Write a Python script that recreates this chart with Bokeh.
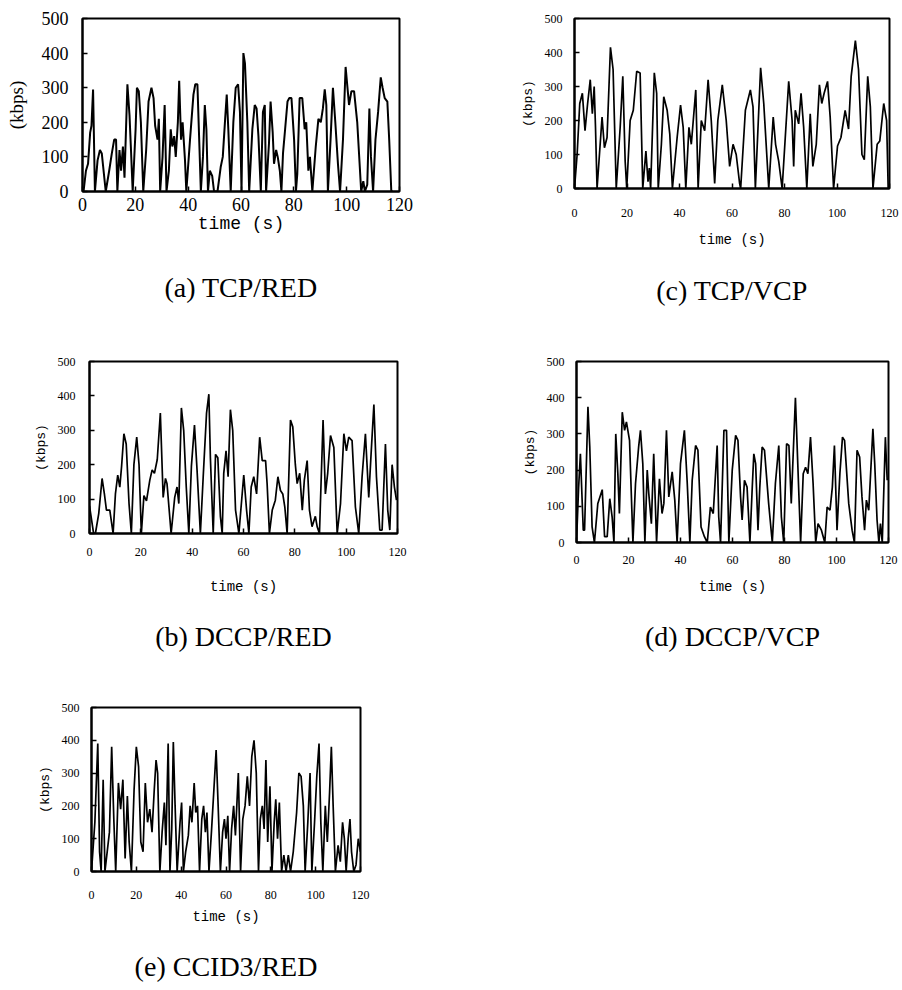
from bokeh.plotting import figure
from bokeh.layouts import column, row
from bokeh.models import Spacer, Range1d, FixedTicker
from bokeh.embed import file_html
from bokeh.resources import INLINE

x_ticks = [0, 20, 40, 60, 80, 100, 120]
y_ticks = [0, 100, 200, 300, 400, 500]

# (time s, kbps)
tcp_red = [(0, 0), (0.4, 0), (1.3, 60), (2.1, 80), (2.9, 170), (3.4, 190), (4.0, 295), (4.7, 0), (5.7, 90), (6.6, 120),
           (7.3, 110), (8.8, 0), (10.1, 60), (11.1, 110), (12.0, 150), (12.7, 150), (13.2, 0), (14.0, 120), (14.6, 60),
           (15.3, 130), (15.9, 40), (17.0, 310), (17.8, 220), (18.3, 130), (19.0, 0), (20.1, 180), (20.6, 300),
           (21.3, 290), (22.1, 200), (23.0, 0), (24.1, 120), (25.0, 260), (26.1, 300), (26.9, 270), (27.5, 190),
           (28.4, 150), (28.9, 210), (29.4, 0), (30.3, 100), (31.1, 250), (31.8, 0), (32.7, 60), (33.4, 180),
           (34.0, 130), (34.7, 160), (35.3, 100), (36.1, 200), (36.6, 320), (37.3, 150), (37.9, 200), (38.8, 90),
           (39.3, 0), (40.7, 150), (42.0, 280), (42.7, 310), (43.5, 310), (44.3, 120), (44.8, 0), (45.6, 100),
           (46.3, 250), (46.9, 180), (47.5, 0), (48.2, 60), (49.1, 45), (49.8, 0), (51.1, 0), (52.3, 70), (53.1, 100),
           (54.0, 210), (54.6, 280), (55.2, 180), (56.1, 0), (57.1, 200), (58.0, 300), (58.9, 310), (59.6, 230),
           (60.2, 0), (60.9, 400), (61.5, 370), (62.4, 200), (63.1, 0), (64.3, 180), (65.2, 250), (65.9, 240),
           (66.6, 160), (67.5, 0), (68.3, 230), (69.0, 250), (69.5, 0), (70.6, 140), (71.2, 260), (72.0, 170),
           (72.5, 80), (73.3, 120), (73.9, 100), (74.7, 60), (75.3, 0), (75.9, 110), (76.7, 180), (77.6, 260),
           (78.3, 270), (79.1, 270), (80.1, 150), (80.8, 0), (81.3, 50), (82.2, 270), (83.2, 270), (84.1, 180),
           (84.7, 200), (85.5, 60), (86.1, 100), (87.0, 0), (88.3, 130), (89.3, 210), (90.2, 200), (91.0, 240),
           (91.7, 295), (92.3, 250), (92.9, 0), (93.9, 150), (94.8, 300), (95.7, 200), (96.7, 80), (97.5, 0),
           (98.6, 150), (99.6, 360), (100.3, 300), (100.9, 250), (101.8, 290), (102.8, 290), (104.0, 200),
           (105.5, 0), (106.3, 30), (106.9, 0), (107.8, 20), (108.6, 240), (109.2, 100), (110.0, 0), (110.9, 150),
           (111.9, 230), (112.9, 330), (113.6, 300), (114.4, 270), (115.4, 260), (116.1, 150), (116.9, 0), (117.5, 0)]

dccp_red = [(0, 80), (1.6, 0), (2.3, 0), (3.6, 58), (4.9, 160), (5.8, 115), (6.6, 68), (7.9, 68), (9.2, 0), (10.1, 115),
            (11.0, 170), (11.8, 135), (12.5, 195), (13.4, 290), (14.3, 260), (15.4, 87), (16.3, 0), (17.3, 200),
            (18.4, 280), (19.3, 200), (20.2, 0), (21.2, 110), (22.2, 95), (23.5, 155), (24.4, 185), (25.3, 175),
            (26.4, 215), (27.6, 350), (28.7, 105), (29.6, 160), (30.2, 145), (31.8, 0), (33.2, 105), (34.1, 135),
            (34.8, 87), (35.8, 365), (36.7, 300), (37.7, 135), (38.7, 0), (39.7, 195), (40.9, 315), (41.9, 185),
            (43.2, 0), (44.3, 165), (45.6, 350), (46.5, 405), (47.1, 220), (48.2, 0), (49.1, 230), (50.0, 220),
            (51.0, 50), (51.7, 0), (52.3, 175), (53.2, 240), (54.0, 165), (54.9, 360), (55.8, 300), (56.9, 68),
            (58.2, 0), (60.1, 170), (61.2, 68), (62.1, 0), (63.0, 135), (64.0, 165), (65.1, 115), (66.3, 280),
            (67.3, 212), (68.6, 212), (69.2, 145), (70.1, 0), (71.2, 68), (72.4, 97), (73.4, 165), (74.4, 125),
            (75.3, 115), (76.1, 77), (77.0, 0), (78.3, 330), (79.2, 310), (80.2, 200), (80.9, 145), (81.9, 175),
            (82.9, 68), (83.7, 155), (84.8, 212), (85.7, 68), (86.7, 20), (88.0, 50), (88.7, 20), (89.6, 0),
            (91.0, 330), (91.9, 115), (92.8, 175), (93.9, 285), (95.2, 250), (96.5, 0), (97.8, 87), (99.1, 290),
            (100.1, 240), (101.0, 280), (102.3, 270), (103.6, 77), (104.9, 0), (106.2, 165), (107.5, 290),
            (108.8, 105), (109.7, 230), (110.8, 375), (111.8, 165), (113.1, 10), (114.0, 10), (115.3, 260),
            (116.2, 68), (117.0, 10), (117.9, 200), (118.8, 135), (119.6, 97)]

tcp_vcp = [(0, 0), (1, 100), (2, 250), (3, 280), (4, 170), (5, 250), (6, 320), (6.8, 220), (7.5, 300), (8, 180),
           (8.6, 0), (10.5, 210), (11.4, 120), (12.4, 150), (13.7, 415), (14.7, 350), (15.9, 0), (17.4, 180),
           (18.4, 330), (19.3, 80), (19.9, 0), (21.2, 200), (22.4, 230), (23.7, 345), (25.0, 340), (26.0, 0),
           (27.2, 110), (28, 20), (28.5, 60), (29, 0), (30.4, 340), (31.3, 280), (31.9, 0), (33.1, 130), (34.0, 270),
           (35.3, 230), (36.3, 160), (37.3, 0), (39.1, 150), (40.4, 245), (41.4, 180), (42.4, 0), (43.6, 180),
           (44.5, 130), (46.2, 290), (47.1, 0), (48.3, 200), (49.6, 170), (50.9, 320), (52.1, 200), (53.4, 15),
           (54.6, 200), (56.3, 305), (57.8, 200), (59.1, 65), (60.4, 130), (61.6, 100), (62.9, 15), (63.3, 0),
           (65.1, 230), (67.0, 290), (68.0, 240), (68.9, 0), (70.9, 355), (72.1, 250), (74.0, 0), (75.7, 210),
           (76.6, 130), (77.8, 80), (79.1, 0), (81.6, 315), (82.9, 200), (83.5, 65), (84.1, 230), (85.4, 190),
           (86.3, 280), (87.3, 180), (88.5, 0), (89.8, 220), (90.8, 65), (92.1, 130), (93.3, 305), (94.2, 250),
           (95.1, 280), (96.4, 315), (97.4, 210), (98.7, 0), (100.2, 125), (101.5, 150), (103.1, 230), (104.4, 175),
           (105.4, 330), (107.0, 435), (108.2, 350), (109.5, 100), (110.4, 85), (111.7, 330), (112.7, 240),
           (113.7, 0), (115.3, 130), (116.3, 140), (117.8, 250), (118.9, 200), (119.5, 0)]

dccp_vcp = [(0, 0), (0.8, 150), (1.5, 245), (2.6, 34), (3.1, 34), (4.4, 375), (5.1, 265), (6.0, 43), (6.9, 0),
            (8.2, 108), (9.9, 146), (10.8, 16), (11.8, 16), (12.8, 121), (13.7, 71), (14.4, 0), (15.1, 300),
            (15.9, 190), (16.5, 80), (17.6, 360), (18.5, 310), (19.2, 333), (20.4, 282), (21.7, 0), (22.7, 163),
            (23.9, 264), (24.6, 310), (25.5, 218), (26.3, 0), (27.2, 200), (27.8, 135), (28.8, 52), (29.7, 245),
            (30.8, 0), (31.9, 176), (32.9, 80), (33.6, 108), (34.6, 310), (35.5, 126), (36.8, 195), (37.8, 117),
            (38.7, 0), (40.0, 218), (41.5, 310), (42.6, 163), (43.6, 0), (44.5, 172), (45.8, 268), (46.7, 255),
            (47.9, 43), (49.2, 16), (50.3, 0), (51.5, 98), (52.6, 80), (54.1, 268), (54.7, 71), (55.4, 0),
            (56.7, 310), (57.7, 310), (58.6, 0), (59.9, 200), (61.2, 296), (62.1, 282), (63.1, 126), (63.7, 62),
            (64.6, 172), (65.6, 153), (66.7, 0), (67.6, 153), (68.2, 245), (68.9, 218), (69.8, 34), (70.5, 153),
            (71.4, 264), (72.3, 255), (73.9, 108), (75.3, 0), (76.5, 163), (77.8, 268), (78.8, 71), (79.7, 0),
            (80.8, 273), (81.7, 268), (82.6, 108), (83.3, 236), (84.2, 400), (85.1, 218), (86.2, 0), (87.2, 190),
            (88.1, 208), (89.0, 190), (90.0, 291), (91.0, 163), (92.0, 0), (92.9, 52), (94.2, 34), (95.5, 0),
            (96.4, 98), (97.5, 89), (98.4, 153), (99.2, 268), (100.2, 34), (101.3, 190), (102.3, 291), (103.1, 282),
            (104.7, 108), (106.0, 34), (106.9, 0), (107.9, 255), (108.9, 236), (109.8, 126), (110.8, 34),
            (111.5, 117), (112.4, 89), (114.0, 314), (114.7, 218), (115.6, 62), (116.3, 0), (116.9, 52), (117.6, 0),
            (118.8, 291), (119.5, 172)]

ccid3_red = [(0, 0), (1.5, 150), (2.8, 390), (3.6, 60), (4.3, 0), (5.2, 280), (6, 0), (7, 60), (8, 120), (9, 380),
             (10, 150), (10.8, 0), (12, 270), (13, 190), (14, 280), (15, 40), (16, 230), (16.8, 90), (17.8, 0),
             (19, 250), (20, 380), (21, 320), (22, 90), (23, 60), (24, 270), (25, 150), (26, 190), (27, 120),
             (28, 250), (28.8, 340), (29.5, 300), (30.5, 0), (31.5, 120), (32.5, 210), (33.2, 80), (34.2, 390),
             (35, 0), (35.8, 130), (36.5, 395), (37.3, 200), (38.2, 0), (39.5, 150), (40.2, 210), (41, 0), (42, 60),
             (43.2, 110), (44, 200), (44.8, 150), (45.8, 270), (46.5, 180), (47.3, 200), (48.2, 0), (49.2, 160),
             (50, 200), (50.8, 120), (51.5, 180), (52.4, 0), (53.5, 120), (54.6, 250), (55.6, 370), (56.5, 200),
             (57.5, 0), (58.5, 120), (59.3, 160), (60, 100), (60.8, 170), (61.6, 0), (62.5, 130), (63.4, 200),
             (64.2, 110), (65.5, 300), (66.5, 0), (67.5, 160), (68.5, 200), (69.5, 290), (70.5, 200), (71.5, 350),
             (72.5, 400), (73.5, 300), (74.5, 0), (75.3, 160), (76.2, 200), (77, 130), (77.8, 340), (78.6, 90),
             (79.6, 260), (80.5, 0), (81.5, 150), (82.2, 220), (83, 100), (83.8, 210), (84.8, 0), (85.8, 50),
             (86.8, 0), (87.8, 50), (88.8, 0), (90, 60), (91.5, 180), (92.5, 300), (93.5, 290), (94.5, 200),
             (95.3, 0), (96.5, 150), (97.5, 300), (98.3, 0), (99.5, 150), (100.5, 290), (101.5, 390), (102.3, 150),
             (103.2, 0), (104.3, 200), (105.2, 90), (106.2, 240), (107, 380), (107.8, 200), (108.8, 0), (110, 80),
             (111, 30), (112, 150), (112.8, 100), (113.6, 0), (114.5, 100), (115.3, 160), (116, 60), (117, 0),
             (118, 20), (119, 100), (120, 60)]

titles = ["(a) TCP/RED", "(b) DCCP/RED", "(c) TCP/VCP", "(d) DCCP/VCP", "(e) CCID3/RED"]


def panel(data, title, left, fw, right, top, fh, total_h, big, title_standoff, label_standoff, tick_standoff,
          ytick_standoff, ylabel_standoff):
    t = [d[0] for d in data]
    v = [d[1] for d in data]
    p = figure(frame_width=fw, frame_height=fh, x_range=Range1d(0, 120), y_range=Range1d(0, 500),
               output_backend="svg", toolbar_location=None, title=title, title_location="below",
               min_border_left=left, min_border_right=right, min_border_top=top,
               min_border_bottom=total_h - top - fh)
    p.line(t, v, line_color="black", line_width=2 if big else 1.7)
    p.grid.visible = False
    p.outline_line_color = "black"
    p.outline_line_width = 2
    p.outline_line_alpha = 1
    p.xaxis.ticker = FixedTicker(ticks=x_ticks)
    p.yaxis.ticker = FixedTicker(ticks=y_ticks)
    p.xaxis.axis_label = "time (s)"
    p.yaxis.axis_label = "(kbps)"
    tick_size = "18px" if big else "12px"
    for ax in (p.xaxis[0], p.yaxis[0]):
        ax.major_tick_in = 5
        ax.major_tick_out = 0
        ax.minor_tick_line_color = None
        ax.axis_line_width = 2
        ax.major_tick_line_width = 1.5
        ax.major_label_text_font = "Liberation Serif"
        ax.major_label_text_font_size = tick_size
        ax.major_label_text_color = "black"
        ax.axis_label_text_font_style = "normal"
        ax.axis_label_text_color = "black"
    p.xaxis.axis_label_text_font = "Liberation Mono"
    p.xaxis.axis_label_text_font_size = "18px" if big else "14px"
    p.yaxis.axis_label_text_font = "Liberation Serif" if big else "Liberation Mono"
    p.yaxis.axis_label_text_font_size = "19px" if big else "13px"
    p.xaxis.major_label_standoff = tick_standoff
    p.yaxis.major_label_standoff = ytick_standoff
    p.xaxis.axis_label_standoff = label_standoff
    p.yaxis.axis_label_standoff = ylabel_standoff
    p.title.text_font = "Liberation Serif"
    p.title.text_font_size = "28px"
    p.title.text_font_style = "normal"
    p.title.text_color = "black"
    p.title.align = "center"
    p.title.standoff = title_standoff
    return p


fa = panel(tcp_red, titles[0], 82, 317, 52, 15, 173, 345, True, 66, 0, 6, 14, 12)
fc = panel(tcp_vcp, titles[2], 123, 315, 13, 18, 170, 345, False, 44, 12, 20, 12, 6)
fb = panel(dccp_red, titles[1], 89, 308, 54, 16, 172, 345, False, 43, 20, 14, 14, 6)
fd = panel(dccp_vcp, titles[3], 125, 312, 14, 16, 181, 345, False, 43, 12, 13, 12, 6)
fe = panel(ccid3_red, titles[4], 91, 269, 91, 17, 164, 300, False, 42, 7, 19, 12, 6)

layout = column(row(fa, fc), row(fb, fd), row(fe, Spacer(width=451, height=300)))

open("out.html", "w").write(file_html(layout, INLINE))
